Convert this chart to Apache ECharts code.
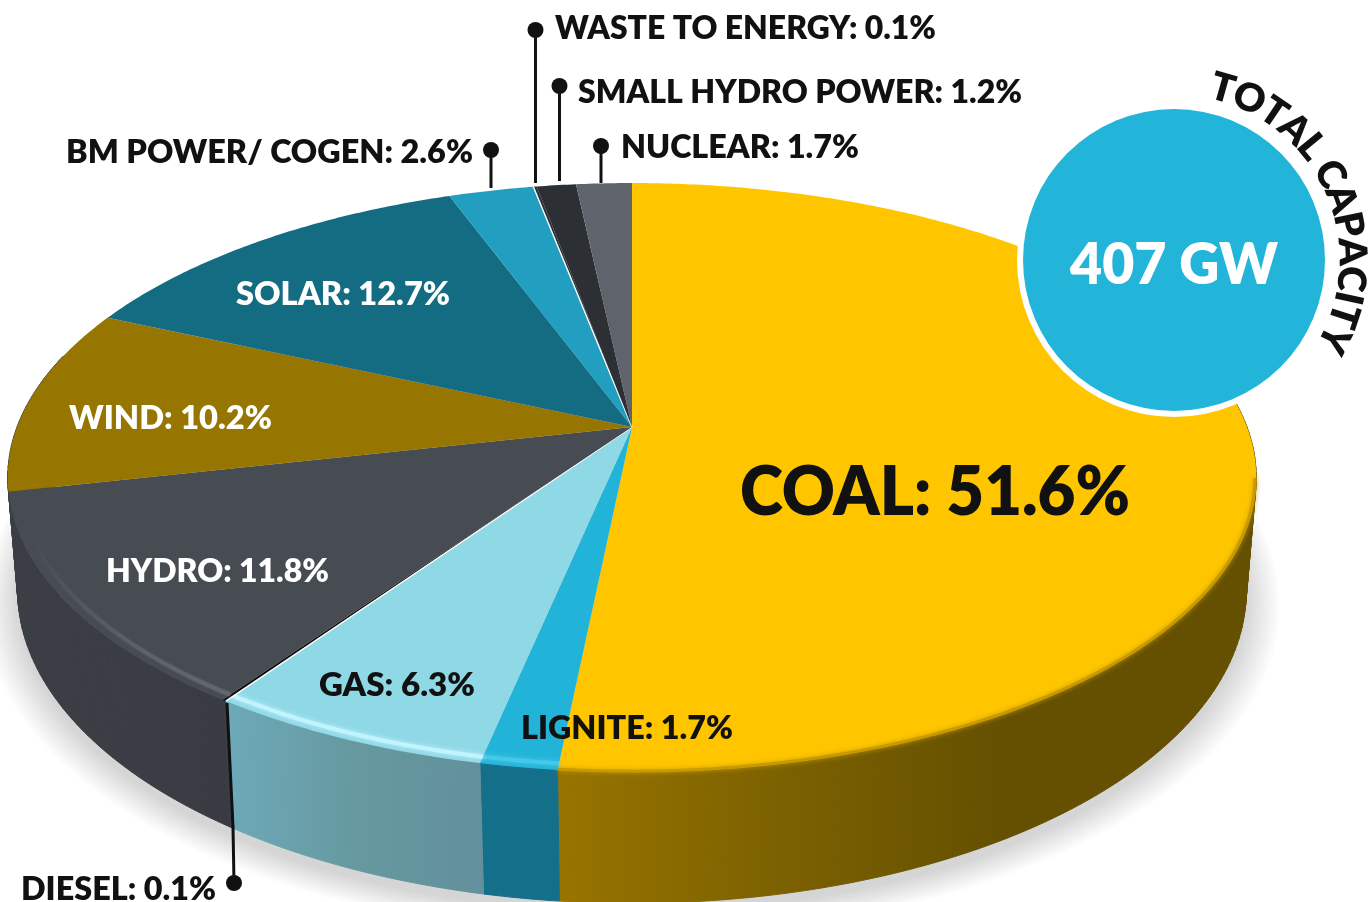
<!DOCTYPE html>
<html><head><meta charset="utf-8">
<style>html,body{margin:0;padding:0;background:#fff}#c{width:1370px;height:902px}</style>
<script src="https://cdn.jsdelivr.net/npm/echarts@6/dist/echarts.min.js"></script>
</head><body><div id="c"></div>
<script>
// ---- data (clockwise from 12 o'clock) ----
const categories = ['COAL','LIGNITE','GAS','DIESEL','HYDRO','WIND','SOLAR','BM POWER/ COGEN','WASTE TO ENERGY','SMALL HYDRO POWER','NUCLEAR'];
const shares = [51.6,1.7,6.3,0.1,11.8,10.2,12.7,2.6,0.1,1.2,1.7];
const totalLabel = '407 GW';
const ringLabel = 'TOTAL CAPACITY';

// ---- styles ----
const topColors = ['#FFC600','#22B4D8','#8FD8E6','#0c0c0c','#474B52','#967500','#146C82','#229FC0','#2C3034','#2C3034','#5F636B'];
const wallColors = [['#987400','#7c6100','#645000'],['#14708A','#14708A','#14708A'],['#6DA9B9','#66999F','#62909C'],['#3A3E44','#3A3E44','#3A3E44'],['#3A3E44','#3A3E44','#383C42'],['#3A3E44','#3A3E44','#3A3E44'],['#0f5566','#0f5566','#0f5566'],['#1a7d97','#1a7d97','#1a7d97'],['#222','#222','#222'],['#222','#222','#222'],['#444','#444','#444']];
const rimColors = ['#c99a00','#45C9EA','#C2F4FF',null,'#62666E',null,null,null,null,null,null];
const FONT = 'Lato';
// label layout: left x, centre y, font size, fitted width, colour
const labelLayout = [
 [740,493,68,390,'#111'],[521,729,32,212,'#111'],[319,686,32,156,'#111'],[21,890,32,195,'#111'],
 [106,572,32,223,'#fff'],[69,419,32,203,'#fff'],[236,295,32,214,'#fff'],[66,153,32,407,'#111'],
 [555,29,32,381,'#111'],[578,93,32,444,'#111'],[621,148,32,238,'#111']];
// leaders: category index, polyline points, last point is the dot
const leaders = [[3,[[227,703],[233,827],[234,883]]],[7,[[491,188],[491,150]]],[8,[[535.5,183],[535.5,30]]],[9,[[559.5,181],[559.5,86]]],[10,[[601,183],[601,146]]]];

// ---- perspective projection of the pie's circular faces ----
const CX = 632;
const topFace = {A:615, B:285.8, k:0.1715, y0:427};
const lowFace = {A:604, B:302.5, k:0.183, y0:533};
function proj(f, deg, r) {
  if (f===lowFace) deg -= 0.6*Math.sin(2*(deg-180)*Math.PI/180);
  const t = deg*Math.PI/180, u = r*Math.sin(t), v = r*Math.cos(t), d = 1+f.k*v;
  return [CX + f.A*u/d, f.y0 - f.B*v/d];
}
function arc(f, a, b, r) {
  const n = Math.max(2, Math.ceil((b-a)/0.5)), pts = [];
  for (let i=0;i<=n;i++) pts.push(proj(f, a+(b-a)*i/n, r));
  return pts;
}
const total = shares.reduce((s,v)=>s+v,0);
function startOf(i){ let s=0; for(let j=0;j<i;j++) s+=shares[j]; return s/total*360; }

const measure = document.createElement('canvas').getContext('2d');
function textW(t,font){ measure.font=font; return measure.measureText(t).width; }

const chart = echarts.init(document.getElementById('c'), null, {renderer:'canvas'});
const seriesData = shares.map((v,i)=>({name:categories[i], value:[i,v]}));

function grad(stops,x1,x2){ return {type:'linear',x:x1,y:0,x2:x2,y2:0,global:true,
  colorStops:[{offset:0,color:stops[0]},{offset:.5,color:stops[1]},{offset:1,color:stops[2]}]}; }
function fade(color,x1,x2){ return {type:'linear',x:x1,y:0,x2:x2,y2:0,global:true,
  colorStops:[{offset:0,color:'rgba(100,104,112,0)'},{offset:1,color:color}]}; }

// soft ground shadow: stacked translucent rings under the lower rim
function renderShadow(){
  const kids=[];
  for(let n=0;n<14;n++){
    const r=1.052-n*0.004;
    kids.push({type:'polygon',y:9,shape:{points:arc(lowFace,0,360,r)},
      style:{fill:'rgba(55,55,75,0.017)'}});
  }
  return {type:'group',children:kids};
}
function renderWall(p,api){
  const i=api.value(0), a0=startOf(i), b0=a0+api.value(1)/total*360;
  const a=Math.max(a0,70), b=Math.min(b0,285);
  if(b<=a) return {type:'group',children:[]};
  const up=arc(topFace,a,b,1), lo=arc(lowFace,a,b,1);
  const xs=up.concat(lo).map(q=>q[0]);
  const wide = i===0? [558,1000] : [Math.min(...xs),Math.max(...xs)];
  const fill=grad(wallColors[i],wide[0],wide[1]);
  // the wall is swept between the two rims, so the silhouette keeps its tangents
  const kids=[];
  for(let j=0;j<up.length-1;j+=2){
    const e=Math.min(j+2,up.length-1);
    kids.push({type:'polygon',shape:{points:[up[j],up[e],lo[e],lo[j]]},style:{fill:fill,stroke:fill,lineWidth:1}});
  }
  return {type:'group',children:kids};
}
function renderTop(p,api){
  const i=api.value(0), a=startOf(i), b=a+api.value(1)/total*360;
  const apex=proj(topFace,0,0);
  const kids=[{type:'polygon',shape:{points:[apex].concat(arc(topFace,a,b,1))},style:{fill:topColors[i]}}];
  const ra=Math.max(a,i===0?100:88), rb=Math.min(b,262);
  if(rimColors[i] && rb>ra){
    const stroke = i===4 ? fade(rimColors[i],30,228) : rimColors[i];
    kids.push({type:'polyline',shape:{points:arc(topFace,ra,rb,i===0?0.998:0.984)},
      style:{fill:null,stroke:stroke,lineWidth:i===0?3:4,shadowBlur:i===4?2:5,shadowColor:rimColors[i],lineCap:'butt'}});
  }
  if(i===3||i===8){ // hairline on the neighbouring slice's edge
    const e=proj(topFace,a,1);
    kids.push({type:'line',shape:{x1:apex[0],y1:apex[1],x2:e[0],y2:e[1]},style:{stroke:'#fff',lineWidth:1.4}});
  }
  return {type:'group',children:kids};
}
function renderLabel(p,api){
  const i=api.value(0), L=labelLayout[i], txt=categories[i]+': '+api.value(1).toFixed(1)+'%';
  const font='800 '+L[2]+'px '+FONT;
  return {type:'text',x:L[0],y:L[1],scaleX:L[3]/textW(txt,font),
    style:{text:txt,font:font,fill:L[4],textAlign:'left',textVerticalAlign:'middle'}};
}
function renderLeader(p,api){
  const pts=leaders[api.value(0)][1], d=pts[pts.length-1];
  return {type:'group',children:[
    {type:'polyline',shape:{points:pts},style:{fill:null,stroke:'#111',lineWidth:3}},
    {type:'circle',shape:{cx:d[0],cy:d[1],r:8},style:{fill:'#111'}}]};
}
// capacity badge
const BX=1174,BY=260,BR=151;
function renderBadge(){
  const f407='800 56px '+FONT;
  const kids=[
    {type:'circle',shape:{cx:BX,cy:BY,r:BR+6},style:{fill:'#fff'}},
    {type:'circle',shape:{cx:BX,cy:BY,r:BR},style:{fill:'#22B5D9'}},
    {type:'text',x:BX,y:BY+6,scaleX:208/textW(totalLabel,f407),style:{text:totalLabel,font:f407,fill:'#fff',textAlign:'center',textVerticalAlign:'middle'}}];
  const font='800 39px '+FONT, rad=178;
  const widths=[...ringLabel].map(c=>textW(c,font));
  const sum=widths.reduce((s,w)=>s+w,0), span=(116.7+4-(15.9-4))*Math.PI/180;
  const scale=span*rad/sum;
  let ang=(15.9-4)*Math.PI/180;
  [...ringLabel].forEach((c,j)=>{
    const w=widths[j]*scale, mid=ang+w/2/rad;
    kids.push({type:'text',x:BX+rad*Math.sin(mid),y:BY-rad*Math.cos(mid),rotation:-mid,
      style:{text:c,font:font,fill:'#111',textAlign:'center',textVerticalAlign:'middle'}});
    ang+=w/rad;
  });
  return {type:'group',children:kids};
}
const custom=(name,z,render,data)=>({type:'custom',name,coordinateSystem:'none',z,silent:true,animation:false,renderItem:render,data,clip:false});
chart.setOption({
  animation:false,
  backgroundColor:'#fff',
  series:[
    custom('shadow',1,renderShadow,[[0]]),
    custom('walls',2,renderWall,seriesData),
    custom('slices',3,renderTop,seriesData),
    custom('leaders',4,renderLeader,leaders.map((l,i)=>({name:categories[l[0]],value:[i]}))),
    custom('badge',5,renderBadge,[[0]]),
    custom('labels',6,renderLabel,seriesData)
  ]
});
</script></body></html>
